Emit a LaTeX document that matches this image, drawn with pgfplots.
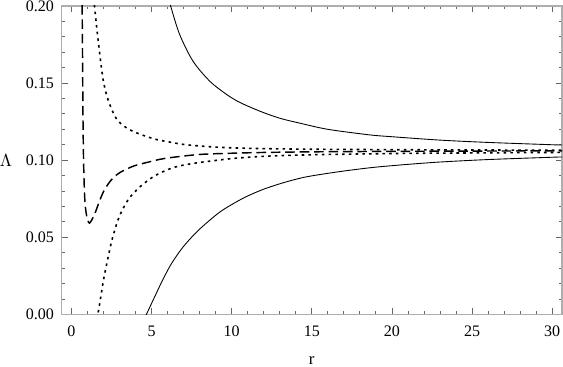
\documentclass[border=0pt]{standalone}
\usepackage{fontspec}
\setmainfont{Liberation Serif}
\usepackage{pgfplots}
\pgfplotsset{compat=1.18}
\begin{document}
\begin{tikzpicture}
\begin{axis}[
  scale only axis,
  width=312.5pt, height=192.5pt,
  xmin=-0.625, xmax=30.625, ymin=0, ymax=0.2,
  xtick={0,5,10,15,20,25,30},
  ytick={0,0.05,0.1,0.15,0.2},
  minor x tick num=4, minor y tick num=4,
  tick align=inside,
  major tick length=4pt, minor tick length=2.2pt,
  axis line style={draw=black!32, line width=1pt},
  every tick/.style={draw=black!60, line width=0.5pt},
  /pgf/number format/assume math mode=true,
  yticklabel style={/pgf/number format/fixed, /pgf/number format/fixed zerofill, /pgf/number format/precision=2, inner ysep=0.3pt, inner xsep=0pt, xshift=-4.4pt},
  scaled y ticks=false,
  xlabel={r}, ylabel={$\Lambda$},
  every axis y label/.style={at={(rel axis cs:0,0.5)}, anchor=center, inner sep=0pt, xshift=-34.5pt},
  every axis x label/.style={at={(rel axis cs:0.5,0)}, anchor=center, inner sep=1.2pt, yshift=-29pt},
  tick label style={font=\fontsize{10}{12}\selectfont},
  label style={font=\fontsize{10.5}{12}\selectfont},
  xticklabel style={anchor=center, inner sep=0pt, yshift=-10.6pt},
]
% upper solid
\addplot[black, line width=0.55pt, smooth] coordinates {
(6.05,0.205) (6.19,0.200) (6.75,0.1816) (7.58,0.1643) (8.625,0.1513) (9.67,0.1427)
(10.5,0.1375) (11.75,0.1318) (13,0.1272) (14.25,0.1240) (16,0.1200) (18.6,0.1164)
(20,0.1152) (23,0.1130) (26,0.1115) (30,0.1100) (30.7,0.1098)};
% lower solid
\addplot[black, line width=0.55pt, smooth] coordinates {
(4.60,-0.0018) (4.68,0) (5.2,0.0115) (5.67,0.0218) (6.23,0.0327) (6.96,0.0436) (7.9,0.0543)
(9.15,0.0655) (10.0,0.0712) (10.9,0.0763) (12.0,0.0812) (13.3,0.0856) (14.67,0.0892)
(16.75,0.0926) (18.83,0.0953) (20.9,0.0972) (23,0.0988) (26,0.1004) (30,0.1019) (30.7,0.1021)};
% upper dotted
\addplot[black, line width=1pt, dash pattern=on 1.6pt off 2.6pt, smooth] coordinates {
(1.42,0.205) (1.44,0.200) (1.5,0.194) (1.6,0.184) (1.7,0.175) (1.8,0.166) (1.9,0.158)
(2.0,0.151) (2.2,0.142) (2.4,0.136) (2.6,0.131) (2.8,0.127) (3.0,0.1245) (3.5,0.1205)
(4.0,0.118) (4.5,0.116) (5.3,0.1134) (6.0,0.112) (7.0,0.1102) (8.5,0.1088) (10,0.1080)
(12,0.1075) (15,0.1071) (20,0.1068) (25,0.1066) (30,0.1065) (30.7,0.1065)};
% lower dotted
\addplot[black, line width=1pt, dash pattern=on 1.6pt off 2.6pt, smooth] coordinates {
(1.60,-0.003) (1.65,0) (1.75,0.006) (1.85,0.0125) (1.95,0.019) (2.05,0.025) (2.2,0.0325)
(2.35,0.040) (2.5,0.047) (2.7,0.0545) (2.9,0.061) (3.1,0.0660) (3.4,0.0720) (3.7,0.0765)
(4.25,0.0825) (4.9,0.0878) (5.5,0.0915) (6.3,0.0950) (7,0.0968) (8,0.0985) (10,0.1010)
(12,0.1025) (15,0.1035) (20,0.1043) (25,0.1047) (30,0.1050) (30.7,0.1050)};
% dashed
\addplot[black, line width=0.9pt, dash pattern=on 6pt off 3pt, smooth] coordinates {
(0.66,0.21) (0.67,0.200) (0.70,0.160) (0.73,0.120) (0.77,0.095) (0.82,0.078) (0.88,0.069)
(0.95,0.064) (1.02,0.0610) (1.08,0.0596) (1.13,0.0592) (1.2,0.0600) (1.44,0.0647)
(1.75,0.0734) (2.0,0.0795) (2.27,0.0842) (2.6,0.0885) (3.0,0.0918) (3.5,0.0945)
(4.0,0.0966) (4.9,0.0990) (5.5,0.1005) (6.3,0.1018) (8,0.1037) (10,0.1045) (12,0.1050)
(15,0.1054) (20,0.1057) (25,0.1059) (30,0.1060) (30.7,0.1060)};
\end{axis}
\end{tikzpicture}
\end{document}
